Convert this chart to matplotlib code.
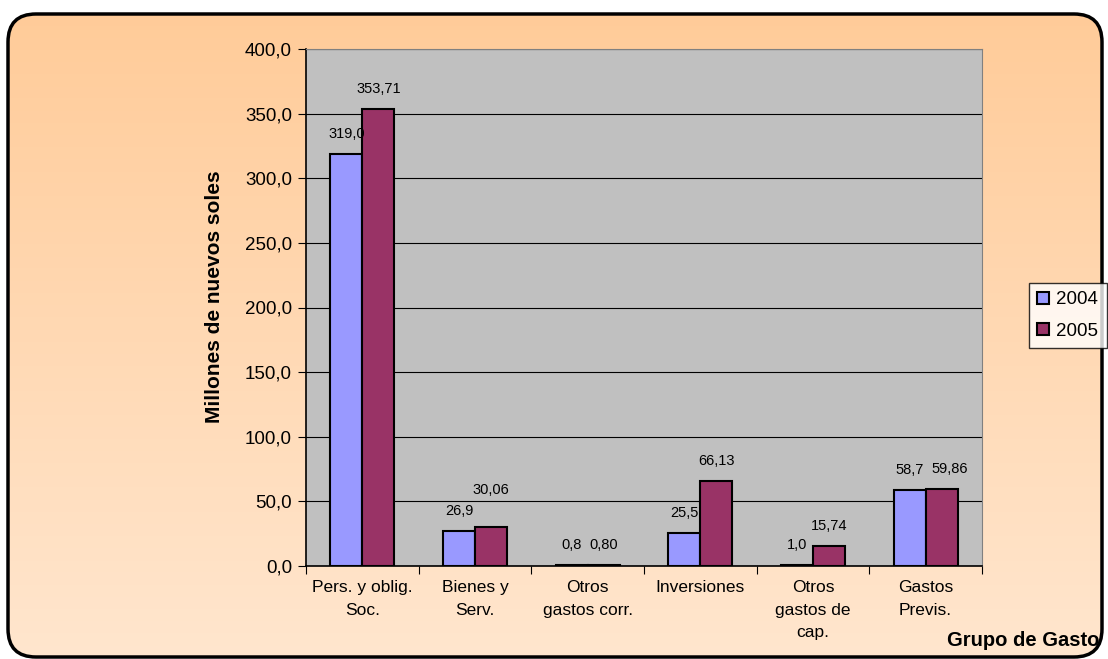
import numpy as np
import matplotlib
matplotlib.use("Agg")
import matplotlib.pyplot as plt
from matplotlib.patches import FancyBboxPatch
from matplotlib.colors import LinearSegmentedColormap

plt.rcParams['font.family'] = ['Liberation Sans', 'DejaVu Sans']

categories = ["Pers. y oblig.\nSoc.", "Bienes y\nServ.", "Otros\ngastos corr.",
              "Inversiones", "Otros\ngastos de\ncap.", "Gastos\nPrevis."]
v2004 = [319.0, 26.9, 0.8, 25.5, 1.0, 58.7]
v2005 = [353.71, 30.06, 0.80, 66.13, 15.74, 59.86]
lab2004 = ["319,0", "26,9", "0,8", "25,5", "1,0", "58,7"]
lab2005 = ["353,71", "30,06", "0,80", "66,13", "15,74", "59,86"]

W, H = 1108, 659
fig = plt.figure(figsize=(W / 100, H / 100), dpi=100)
fig.patch.set_facecolor("white")

# background rounded box with vertical gradient
bg = fig.add_axes([0, 0, 1, 1], zorder=-5)
bg.set_xlim(0, W)
bg.set_ylim(0, H)
bg.axis("off")
box = FancyBboxPatch((8, 2), W - 14, H - 14 - 2,
                     boxstyle="round,pad=0,rounding_size=28",
                     facecolor="none", edgecolor="black", linewidth=2.5, zorder=3)
bg.add_patch(box)
cmap = LinearSegmentedColormap.from_list("g", ["#FFE6CE", "#FFCB98"])
grad = np.linspace(0, 1, 256).reshape(-1, 1)
im = bg.imshow(grad, cmap=cmap, aspect="auto", extent=(0, W, 0, H),
               origin="lower", zorder=1)
im.set_clip_path(box)

ax = fig.add_axes([306 / W, 1 - 566 / H, (982 - 306) / W, (566 - 49) / H])
ax.set_facecolor("#C0C0C0")

x = np.arange(len(categories))
bw = 0.284
ax.bar(x - bw / 2, v2004, bw, color="#9999FF", edgecolor="black", linewidth=1.5,
       label="2004", zorder=3)
ax.bar(x + bw / 2, v2005, bw, color="#993366", edgecolor="black", linewidth=1.5,
       label="2005", zorder=3)

for i in range(len(categories)):
    ax.annotate(lab2004[i], (x[i] - bw / 2, v2004[i]), xytext=(0, 20),
                textcoords="offset pixels", ha="center", va="center", fontsize=10.5)
    # excel nudged some 2005 labels so they don't collide with the 2004 ones
    dx, dy = 0, 20
    if i == 1:
        dy = 37
    if i == 5:
        dx = 8
    ax.annotate(lab2005[i], (x[i] + bw / 2, v2005[i]), xytext=(dx, dy),
                textcoords="offset pixels", ha="center", va="center", fontsize=10.5)

ax.set_xlim(-0.5, len(categories) - 0.5)
ax.set_ylim(0, 400)
ax.set_yticks(np.arange(0, 401, 50))
ax.set_yticklabels([f"{v:.1f}".replace(".", ",") for v in np.arange(0, 401, 50)],
                   fontsize=13.5)
ax.yaxis.grid(True, color="black", linewidth=0.8, zorder=1)
ax.set_axisbelow(True)

ax.set_xticks(np.arange(-0.5, len(categories), 1))
ax.set_xticklabels([])
ax.set_xticks(x, minor=True)
ax.set_xticklabels(categories, minor=True, fontsize=12.5, linespacing=1.65)
ax.tick_params(axis="x", which="minor", length=0, pad=10)
ax.tick_params(axis="x", which="major", length=6, direction="out")
ax.tick_params(axis="y", length=6, direction="out", pad=4)

for s in ["top", "right"]:
    ax.spines[s].set_color("#808080")
ax.spines["left"].set_linewidth(1.2)
ax.spines["bottom"].set_linewidth(1.2)

ax.set_ylabel("Millones de nuevos soles", fontsize=15, fontweight="bold")
ax.yaxis.set_label_coords((224 - 306) / (982 - 306), 0.52)
fig.text(1099 / W, 1 - 640 / H, "Grupo de Gasto", ha="right", va="center",
         fontsize=14.5, fontweight="bold")

leg = fig.legend(loc="upper left", bbox_to_anchor=(1029 / W, 1 - 283 / H),
                 fontsize=13.5, frameon=True, fancybox=False, edgecolor="black",
                 handlelength=0.6, handleheight=0.6, handletextpad=0.4,
                 borderpad=0.45, labelspacing=0.75, borderaxespad=0)
leg.get_frame().set_facecolor("white")
leg.get_frame().set_linewidth(1.0)

fig.savefig("out.png", dpi=100)
